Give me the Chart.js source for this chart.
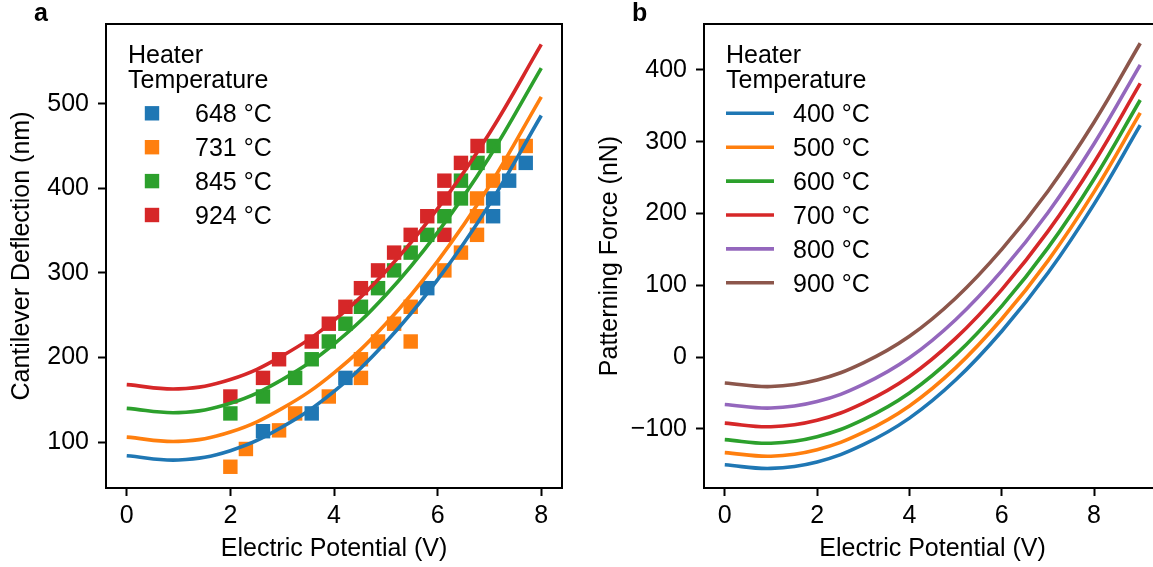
<!DOCTYPE html>
<html>
<head>
<meta charset="utf-8">
<script src="https://cdn.jsdelivr.net/npm/chart.js@4.4.1/dist/chart.umd.min.js"></script>
<style>
  html, body { margin: 0; padding: 0; background: #fff; overflow: hidden; width: 1153px; height: 567px; }
  canvas { position: absolute; top: 0; }
  #chartA { left: 0; }
  #chartB { left: 588px; }
</style>
</head>
<body>
<canvas id="chartA" width="590" height="567"></canvas>
<canvas id="chartB" width="590" height="567"></canvas>
<script>
// panel a: fitted curves
const fitVoltage = [0, 1, 2, 3, 4, 5, 6, 7, 8];
const fit648 = [84, 79, 90, 118, 160, 218, 292, 381, 486];
const fit731 = [106, 101, 112, 140, 182, 240, 314, 403, 508];
const fit845 = [140, 135, 146, 174, 216, 274, 348, 437, 542];
const fit924 = [168, 163, 174, 202, 244, 302, 376, 465, 570];

// panel a: measured points
const volt648 = [2.63, 3.57, 4.22, 5.8, 7.07, 7.07, 7.38, 7.7];
const defl648 = [113, 134, 176, 282, 367, 388, 409, 430];
const volt731 = [2.0, 2.3, 2.94, 3.25, 3.9, 4.52, 4.52, 4.85, 5.16, 5.48, 5.48, 6.13, 6.45, 6.76, 6.76, 6.76, 7.07, 7.38, 7.7];
const defl731 = [71, 92, 114, 134, 154, 176, 198, 219, 240, 219, 260, 303, 324, 345, 367, 388, 409, 430, 450];
const volt845 = [2.0, 2.63, 3.25, 3.57, 3.9, 4.22, 4.52, 4.85, 5.16, 5.48, 5.8, 6.13, 6.45, 6.45, 6.77, 7.08];
const defl845 = [134, 154, 176, 198, 219, 240, 260, 282, 303, 324, 345, 367, 388, 409, 430, 450];
const volt924 = [2.0, 2.63, 2.94, 3.57, 3.9, 4.22, 4.52, 4.85, 5.16, 5.48, 5.8, 6.13, 6.13, 6.13, 6.45, 6.77];
const defl924 = [154, 176, 198, 219, 240, 260, 282, 303, 324, 345, 367, 409, 388, 345, 430, 450];
const labelsA = ['648 °C', '731 °C', '845 °C', '924 °C'];

// panel b: patterning force curves
const forceVoltage = [0, 1, 2, 3, 4, 5, 6, 7, 8, 9];
const force400 = [-150, -155, -146, -122, -85, -32, 36, 117, 213, 323];
const force500 = [-133, -138, -129, -105, -68, -15, 53, 134, 230, 340];
const force600 = [-115, -120, -111, -87, -50, 3, 71, 152, 248, 358];
const force700 = [-92, -97, -88, -64, -27, 26, 94, 175, 271, 381];
const force800 = [-66, -71, -62, -38, -1, 52, 120, 201, 297, 407];
const force900 = [-36, -41, -32, -8, 29, 82, 150, 231, 327, 437];
const labelsB = ['400 °C', '500 °C', '600 °C', '700 °C', '800 °C', '900 °C'];

const colors = ['#1f77b4', '#ff7f0e', '#2ca02c', '#d62728', '#9467bd', '#8c564b'];
const FONT = '"Liberation Sans", Arial, Helvetica, sans-serif';
const FS = 25;

Chart.defaults.color = '#000';
Chart.defaults.font.family = FONT;
Chart.defaults.font.size = FS;

const toXY = (xs, ys) => xs.map((x, i) => ({ x: x, y: ys[i] }));

function fitLine(xs, ys, color) {
  return {
    type: 'line',
    data: toXY(xs, ys),
    borderColor: color,
    borderWidth: 3.6,
    pointRadius: 0,
    tension: 0.4,
    fill: false,
    order: 0
  };
}

function points(xs, ys, color) {
  return {
    type: 'scatter',
    data: toXY(xs, ys),
    showLine: false,
    pointStyle: 'rect',
    pointRadius: 10.2,
    pointHoverRadius: 10.2,
    backgroundColor: color,
    borderWidth: 0,
    order: 1
  };
}

// frame on all four sides, panel letter and the legend
const decorations = {
  id: 'decorations',
  afterDraw(chart, args, opts) {
    const { ctx, chartArea: a } = chart;
    ctx.save();
    ctx.strokeStyle = '#000';
    ctx.lineWidth = 2;
    ctx.strokeRect(a.left, a.top, a.right - a.left, a.bottom - a.top);

    ctx.fillStyle = '#000';
    ctx.textBaseline = 'alphabetic';
    ctx.textAlign = 'left';
    ctx.font = 'bold ' + FS + 'px ' + FONT;
    ctx.fillText(opts.letter, opts.letterX, 21);

    const x0 = a.left + 22;
    ctx.font = FS + 'px ' + FONT;
    ctx.fillText('Heater', x0, 62.5);
    ctx.fillText('Temperature', x0, 88);
    opts.labels.forEach((label, i) => {
      const cy = 113.3 + i * 33.9;
      if (opts.marker) {
        ctx.fillStyle = colors[i];
        ctx.fillRect(x0 + 24 - 7.2, cy - 7.2, 14.4, 14.4);
      } else {
        ctx.strokeStyle = colors[i];
        ctx.lineWidth = 3.6;
        ctx.beginPath();
        ctx.moveTo(x0, cy);
        ctx.lineTo(x0 + 48, cy);
        ctx.stroke();
      }
      ctx.fillStyle = '#000';
      ctx.fillText(label, x0 + 67, cy + 9);
    });
    ctx.restore();
  }
};

function makeScales(xMin, xMax, yMin, yMax, yTitle, yWidth) {
  const grid = { display: true, drawOnChartArea: false, drawTicks: true, tickLength: 8, tickWidth: 2, tickColor: '#000' };
  const border = { display: true, color: '#000', width: 2 };
  return {
    x: {
      type: 'linear', min: xMin, max: xMax,
      grid: grid, border: border,
      ticks: { stepSize: 2, includeBounds: false, padding: 5, maxRotation: 0 },
      title: { display: true, text: 'Electric Potential (V)', padding: { top: 0, bottom: 3 } },
      afterFit: s => { s.height = 79; }
    },
    y: {
      type: 'linear', min: yMin, max: yMax,
      grid: grid, border: border,
      ticks: { stepSize: 100, includeBounds: false, padding: 9, callback: v => String(v).replace('-', '\u2212') },
      title: { display: true, text: yTitle, padding: { top: 7, bottom: 0 } },
      afterFit: s => { s.width = yWidth; }
    }
  };
}

const common = {
  responsive: false,
  animation: false,
  events: [],
  plugins: { legend: { display: false }, tooltip: { enabled: false } }
};

new Chart(document.getElementById('chartA'), {
  type: 'line',
  data: {
    datasets: [
      fitLine(fitVoltage, fit648, colors[0]),
      fitLine(fitVoltage, fit731, colors[1]),
      fitLine(fitVoltage, fit845, colors[2]),
      fitLine(fitVoltage, fit924, colors[3]),
      points(volt648, defl648, colors[0]),
      points(volt731, defl731, colors[1]),
      points(volt845, defl845, colors[2]),
      points(volt924, defl924, colors[3])
    ]
  },
  options: Object.assign({}, common, {
    layout: { padding: { top: 22, right: 28, left: 0, bottom: 0 } },
    scales: makeScales(-0.4, 8.4, 45.9, 594.1, 'Cantilever Deflection (nm)', 106),
    plugins: Object.assign({}, common.plugins, {
      decorations: { letter: 'a', letterX: 34, labels: labelsA, marker: true }
    })
  }),
  plugins: [decorations]
});

new Chart(document.getElementById('chartB'), {
  type: 'line',
  data: {
    datasets: [
      fitLine(forceVoltage, force400, colors[0]),
      fitLine(forceVoltage, force500, colors[1]),
      fitLine(forceVoltage, force600, colors[2]),
      fitLine(forceVoltage, force700, colors[3]),
      fitLine(forceVoltage, force800, colors[4]),
      fitLine(forceVoltage, force900, colors[5])
    ]
  },
  options: Object.assign({}, common, {
    layout: { padding: { top: 22, right: 17, left: 0, bottom: 0 } },
    scales: makeScales(-0.45, 9.45, -182.3, 463.8, 'Patterning Force (nN)', 116),
    plugins: Object.assign({}, common.plugins, {
      decorations: { letter: 'b', letterX: 44, labels: labelsB, marker: false }
    })
  }),
  plugins: [decorations]
});
</script>
</body>
</html>
